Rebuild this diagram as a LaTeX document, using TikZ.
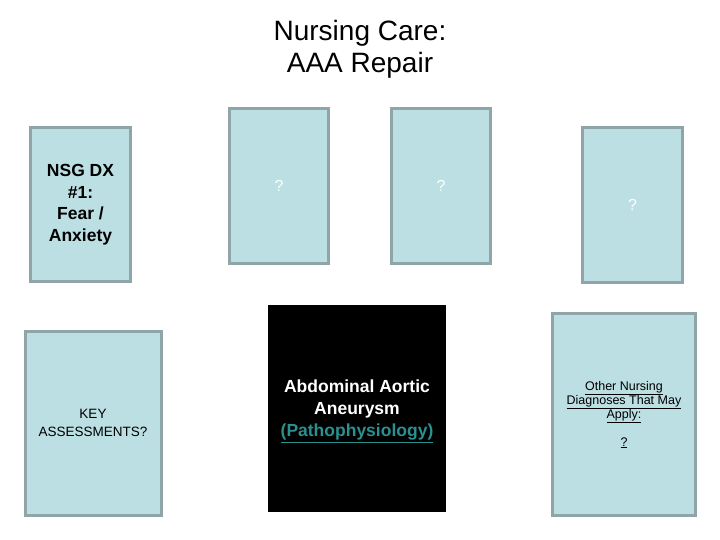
\documentclass[tikz,border=0pt]{standalone}
\usepackage{fontspec}
\setmainfont{Liberation Sans}
\usetikzlibrary{positioning}
\definecolor{cardfill}{HTML}{BBDFE3}
\definecolor{cardline}{HTML}{8FA5A7}
\definecolor{linkteal}{HTML}{2A9090}
\tikzset{
	card/.style = {rectangle, draw=cardline, fill=cardfill, line width=3pt,
		align=center, inner sep=0pt},
	card_dx/.style = {card, minimum width=100pt, minimum height=154pt,
		font=\bfseries\fontsize{17.5}{21.5}\selectfont},% diagnostic
	card_q/.style = {card, minimum width=99pt, minimum height=155pt,
		text=white, font=\fontsize{16}{19}\selectfont},% carte vide, ?
	card_big/.style = {card, font=\fontsize{13.5}{18}\selectfont},
	patho/.style = {rectangle, fill=black, draw=none, inner sep=0pt,
		minimum width=178pt, minimum height=207pt, align=center,
		text=white, font=\bfseries\fontsize{17.5}{22}\selectfont}
}
\begin{document}
\begin{tikzpicture}[x=1pt, y=-1pt]
\useasboundingbox (0,0) rectangle (720,540);
\node [align=center, font=\fontsize{28}{32}\selectfont] (title) at (360,49)
	{Nursing Care:\\AAA Repair};
\node [card_dx] (dx) at (80.5,204.5) {NSG DX\\\#1:\\Fear /\\Anxiety};
\node [card_q] (q1) at (279,186) {?};
\node [card_q, right = 60pt of q1] (q2) {?};
\node [card_q, minimum width=100pt] (q3) at (632.5,205) {?};
\node [card_big, minimum width=136pt, minimum height=184pt] (assess) at (93,423)
	{KEY\\ASSESSMENTS?};
\node [patho] (aaa) at (357,408.5)
	{\rule{0pt}{18pt}Abdominal Aortic\\Aneurysm\\
	\textcolor{linkteal}{\underline{(Pathophysiology)}}};
\node [card_big, minimum width=143pt, minimum height=202pt,
	font=\fontsize{12.5}{14}\selectfont] (other) at (624,414.5)
	{\underline{Other Nursing}\\\underline{Diagnoses That May}\\\underline{Apply:}\\[14pt]
	\underline{?}};
\end{tikzpicture}
\end{document}
